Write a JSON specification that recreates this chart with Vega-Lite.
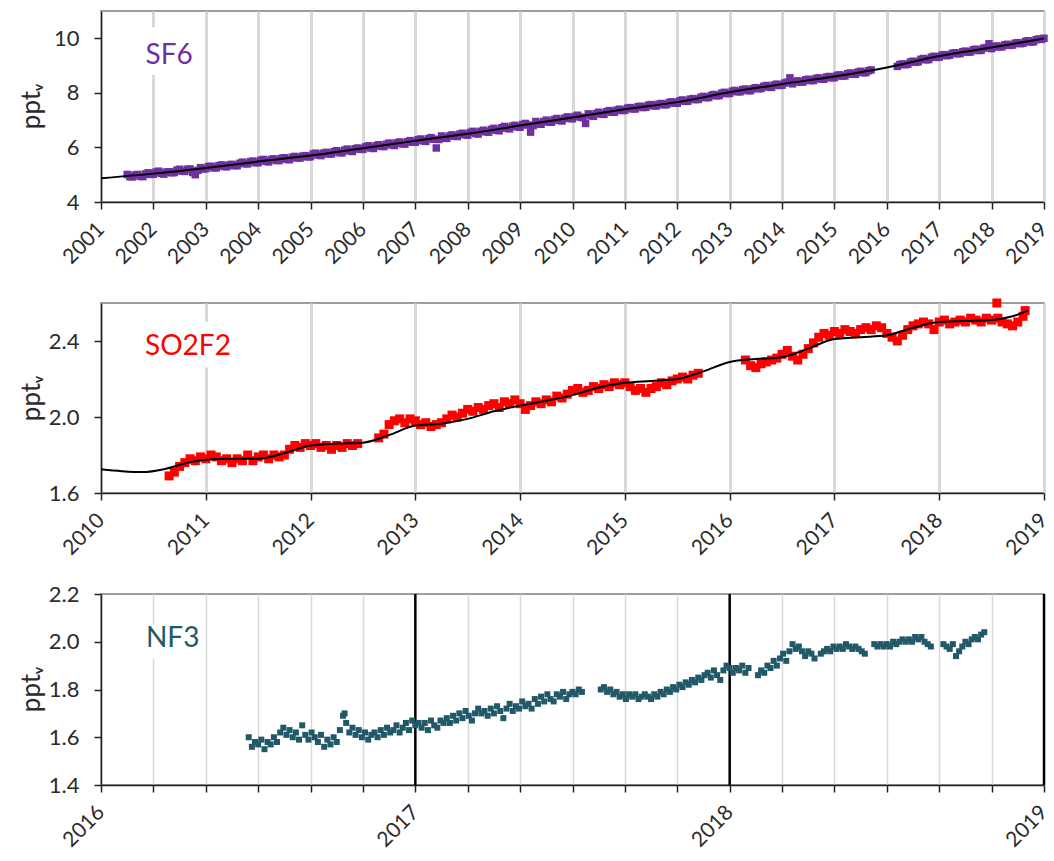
{
"$schema": "https://vega.github.io/schema/vega-lite/v6.json",
"padding": {"left": 17, "top": 10, "right": 2, "bottom": 5},
"background": "white",
"bounds": "flush",
"spacing": 101,
"config": {
  "font": "Lato",
  "view": {"stroke": "#7f7f7f", "strokeWidth": 1.5},
  "axis": {"labelFont": "Lato", "labelFontSize": 22, "labelColor": "#2b2b2b", "titleFont": "Lato", "titleFontSize": 26, "titleFontWeight": "normal", "titleColor": "#2b2b2b", "domainColor": "#222222", "domainWidth": 1.5, "tickColor": "#222222", "tickWidth": 1.5, "tickSize": 7, "labelOverlap": false}
},
"datasets": {
  "sf6": [
    {"t":2001.5,"v":5.01},{"t":2001.6,"v":4.92},{"t":2001.7,"v":5.01},{"t":2001.8,"v":4.93},{"t":2001.9,"v":5.07},
    {"t":2002.0,"v":5.02},{"t":2002.1,"v":5.13},{"t":2002.2,"v":5.02},{"t":2002.3,"v":5.11},{"t":2002.4,"v":5.08},{"t":2002.5,"v":5.20},{"t":2002.6,"v":5.12},{"t":2002.7,"v":5.21},{"t":2002.8,"v":5.00},{"t":2002.9,"v":5.26},
    {"t":2003.0,"v":5.22},{"t":2003.1,"v":5.31},{"t":2003.2,"v":5.25},{"t":2003.3,"v":5.36},{"t":2003.4,"v":5.29},{"t":2003.5,"v":5.38},{"t":2003.6,"v":5.33},{"t":2003.7,"v":5.46},{"t":2003.8,"v":5.40},{"t":2003.9,"v":5.50},
    {"t":2004.0,"v":5.44},{"t":2004.1,"v":5.56},{"t":2004.2,"v":5.47},{"t":2004.3,"v":5.58},{"t":2004.4,"v":5.52},{"t":2004.5,"v":5.62},{"t":2004.6,"v":5.55},{"t":2004.7,"v":5.67},{"t":2004.8,"v":5.61},{"t":2004.9,"v":5.70},
    {"t":2005.0,"v":5.66},{"t":2005.1,"v":5.79},{"t":2005.2,"v":5.70},{"t":2005.3,"v":5.82},{"t":2005.4,"v":5.76},{"t":2005.5,"v":5.88},{"t":2005.6,"v":5.80},{"t":2005.7,"v":5.94},{"t":2005.8,"v":5.85},{"t":2005.9,"v":5.98},
    {"t":2006.0,"v":5.93},{"t":2006.1,"v":6.06},{"t":2006.2,"v":5.96},{"t":2006.3,"v":6.10},{"t":2006.4,"v":6.03},{"t":2006.5,"v":6.16},{"t":2006.6,"v":6.07},{"t":2006.7,"v":6.20},{"t":2006.8,"v":6.12},{"t":2006.9,"v":6.25},
    {"t":2007.0,"v":6.19},{"t":2007.1,"v":6.31},{"t":2007.2,"v":6.22},{"t":2007.3,"v":6.36},{"t":2007.4,"v":5.98},{"t":2007.45,"v":6.29},{"t":2007.5,"v":6.42},{"t":2007.6,"v":6.33},{"t":2007.7,"v":6.46},{"t":2007.8,"v":6.40},{"t":2007.9,"v":6.52},
    {"t":2008.0,"v":6.45},{"t":2008.1,"v":6.59},{"t":2008.2,"v":6.49},{"t":2008.3,"v":6.63},{"t":2008.4,"v":6.56},{"t":2008.5,"v":6.70},{"t":2008.6,"v":6.61},{"t":2008.7,"v":6.77},{"t":2008.8,"v":6.68},{"t":2008.9,"v":6.81},
    {"t":2009.0,"v":6.74},{"t":2009.1,"v":6.88},{"t":2009.2,"v":6.56},{"t":2009.25,"v":6.80},{"t":2009.3,"v":6.95},{"t":2009.4,"v":6.85},{"t":2009.5,"v":7.00},{"t":2009.6,"v":6.92},{"t":2009.7,"v":7.06},{"t":2009.8,"v":6.97},{"t":2009.9,"v":7.12},
    {"t":2010.0,"v":7.05},{"t":2010.1,"v":7.18},{"t":2010.2,"v":7.09},{"t":2010.25,"v":6.88},{"t":2010.3,"v":7.23},{"t":2010.4,"v":7.14},{"t":2010.5,"v":7.29},{"t":2010.6,"v":7.21},{"t":2010.7,"v":7.35},{"t":2010.8,"v":7.29},{"t":2010.9,"v":7.40},
    {"t":2011.0,"v":7.36},{"t":2011.1,"v":7.46},{"t":2011.2,"v":7.41},{"t":2011.3,"v":7.51},{"t":2011.4,"v":7.47},{"t":2011.5,"v":7.57},{"t":2011.6,"v":7.52},{"t":2011.7,"v":7.61},{"t":2011.8,"v":7.57},{"t":2011.9,"v":7.67},
    {"t":2012.0,"v":7.62},{"t":2012.1,"v":7.74},{"t":2012.2,"v":7.69},{"t":2012.3,"v":7.79},{"t":2012.4,"v":7.76},{"t":2012.5,"v":7.87},{"t":2012.6,"v":7.83},{"t":2012.7,"v":7.94},{"t":2012.8,"v":7.90},{"t":2012.9,"v":8.02},
    {"t":2013.0,"v":7.98},{"t":2013.1,"v":8.09},{"t":2013.2,"v":8.04},{"t":2013.3,"v":8.14},{"t":2013.4,"v":8.08},{"t":2013.5,"v":8.19},{"t":2013.6,"v":8.16},{"t":2013.7,"v":8.27},{"t":2013.8,"v":8.20},{"t":2013.9,"v":8.32},
    {"t":2014.0,"v":8.28},{"t":2014.1,"v":8.39},{"t":2014.15,"v":8.55},{"t":2014.2,"v":8.33},{"t":2014.3,"v":8.44},{"t":2014.4,"v":8.40},{"t":2014.5,"v":8.50},{"t":2014.6,"v":8.45},{"t":2014.7,"v":8.55},{"t":2014.8,"v":8.50},{"t":2014.9,"v":8.60},
    {"t":2015.0,"v":8.56},{"t":2015.1,"v":8.66},{"t":2015.2,"v":8.62},{"t":2015.3,"v":8.73},{"t":2015.4,"v":8.68},{"t":2015.5,"v":8.79},{"t":2015.6,"v":8.74},{"t":2015.7,"v":8.84},
    {"t":2016.2,"v":8.97},{"t":2016.3,"v":9.06},{"t":2016.4,"v":9.05},{"t":2016.5,"v":9.16},{"t":2016.6,"v":9.14},{"t":2016.7,"v":9.26},{"t":2016.8,"v":9.22},{"t":2016.9,"v":9.34},
    {"t":2017.0,"v":9.31},{"t":2017.1,"v":9.40},{"t":2017.2,"v":9.38},{"t":2017.3,"v":9.47},{"t":2017.4,"v":9.44},{"t":2017.5,"v":9.53},{"t":2017.6,"v":9.50},{"t":2017.7,"v":9.60},{"t":2017.8,"v":9.56},{"t":2017.9,"v":9.66},{"t":2017.95,"v":9.80},
    {"t":2018.0,"v":9.62},{"t":2018.1,"v":9.72},{"t":2018.2,"v":9.69},{"t":2018.3,"v":9.78},{"t":2018.4,"v":9.75},{"t":2018.5,"v":9.84},{"t":2018.6,"v":9.82},{"t":2018.7,"v":9.91},{"t":2018.8,"v":9.87},{"t":2018.9,"v":9.97},{"t":2019.0,"v":10.00},
    {"t":2001.55,"v":4.93},{"t":2001.65,"v":4.99},{"t":2001.75,"v":4.94},{"t":2001.85,"v":5.03},{"t":2001.95,"v":5.01},{"t":2002.05,"v":5.10},{"t":2002.15,"v":5.05},{"t":2002.25,"v":5.10},{"t":2002.35,"v":5.07},{"t":2002.45,"v":5.17},
    {"t":2002.55,"v":5.13},{"t":2002.65,"v":5.20},{"t":2002.75,"v":5.08},{"t":2002.85,"v":5.16},{"t":2002.95,"v":5.21},{"t":2003.05,"v":5.30},{"t":2003.15,"v":5.25},{"t":2003.25,"v":5.33},{"t":2003.35,"v":5.30},{"t":2003.45,"v":5.36},
    {"t":2003.55,"v":5.33},{"t":2003.65,"v":5.42},{"t":2003.75,"v":5.40},{"t":2003.85,"v":5.48},{"t":2003.95,"v":5.44},{"t":2004.05,"v":5.53},{"t":2004.15,"v":5.49},{"t":2004.25,"v":5.56},{"t":2004.35,"v":5.52},{"t":2004.45,"v":5.60},
    {"t":2004.55,"v":5.56},{"t":2004.65,"v":5.64},{"t":2004.75,"v":5.61},{"t":2004.85,"v":5.68},{"t":2004.95,"v":5.65},{"t":2005.05,"v":5.76},{"t":2005.15,"v":5.72},{"t":2005.25,"v":5.79},{"t":2005.35,"v":5.76},{"t":2005.45,"v":5.85},
    {"t":2005.55,"v":5.81},{"t":2005.65,"v":5.90},{"t":2005.75,"v":5.87},{"t":2005.85,"v":5.95},{"t":2005.95,"v":5.93},{"t":2006.05,"v":6.02},{"t":2006.15,"v":5.98},{"t":2006.25,"v":6.06},{"t":2006.35,"v":6.04},{"t":2006.45,"v":6.12},
    {"t":2006.55,"v":6.09},{"t":2006.65,"v":6.17},{"t":2006.75,"v":6.13},{"t":2006.85,"v":6.21},{"t":2006.95,"v":6.19},{"t":2007.05,"v":6.28},{"t":2007.15,"v":6.24},{"t":2007.25,"v":6.32},{"t":2007.35,"v":6.30},{"t":2007.55,"v":6.35},
    {"t":2007.65,"v":6.42},{"t":2007.75,"v":6.41},{"t":2007.85,"v":6.49},{"t":2007.95,"v":6.46},{"t":2008.05,"v":6.55},{"t":2008.15,"v":6.51},{"t":2008.25,"v":6.59},{"t":2008.35,"v":6.57},{"t":2008.45,"v":6.66},{"t":2008.55,"v":6.63},
    {"t":2008.65,"v":6.72},{"t":2008.75,"v":6.70},{"t":2008.85,"v":6.78},{"t":2008.95,"v":6.75},{"t":2009.05,"v":6.84},{"t":2009.15,"v":6.82},{"t":2009.35,"v":6.87},{"t":2009.45,"v":6.95},{"t":2009.55,"v":6.93},{"t":2009.65,"v":7.02},
    {"t":2009.75,"v":6.99},{"t":2009.85,"v":7.07},{"t":2009.95,"v":7.06},{"t":2010.05,"v":7.14},{"t":2010.15,"v":7.11},{"t":2010.35,"v":7.16},{"t":2010.45,"v":7.24},{"t":2010.55,"v":7.22},{"t":2010.65,"v":7.31},{"t":2010.75,"v":7.29},
    {"t":2010.85,"v":7.37},{"t":2010.95,"v":7.35},{"t":2011.05,"v":7.44},{"t":2011.15,"v":7.41},{"t":2011.25,"v":7.49},{"t":2011.35,"v":7.46},{"t":2011.45,"v":7.55},{"t":2011.55,"v":7.52},{"t":2011.65,"v":7.59},{"t":2011.75,"v":7.56},
    {"t":2011.85,"v":7.65},{"t":2011.95,"v":7.62},{"t":2012.05,"v":7.71},{"t":2012.15,"v":7.69},{"t":2012.25,"v":7.77},{"t":2012.35,"v":7.75},{"t":2012.45,"v":7.84},{"t":2012.55,"v":7.82},{"t":2012.65,"v":7.91},{"t":2012.75,"v":7.89},
    {"t":2012.85,"v":7.99},{"t":2012.95,"v":7.97},{"t":2013.05,"v":8.06},{"t":2013.15,"v":8.04},{"t":2013.25,"v":8.12},{"t":2013.35,"v":8.08},{"t":2013.45,"v":8.16},{"t":2013.55,"v":8.15},{"t":2013.65,"v":8.24},{"t":2013.75,"v":8.21},
    {"t":2013.85,"v":8.29},{"t":2013.95,"v":8.27},{"t":2014.05,"v":8.36},{"t":2014.25,"v":8.41},{"t":2014.35,"v":8.39},{"t":2014.45,"v":8.48},{"t":2014.55,"v":8.45},{"t":2014.65,"v":8.53},{"t":2014.75,"v":8.50},{"t":2014.85,"v":8.58},
    {"t":2014.95,"v":8.55},{"t":2015.05,"v":8.64},{"t":2015.15,"v":8.61},{"t":2015.25,"v":8.70},{"t":2015.35,"v":8.68},{"t":2015.45,"v":8.76},{"t":2015.55,"v":8.74},{"t":2015.65,"v":8.81},
    {"t":2016.25,"v":9.04},{"t":2016.35,"v":9.03},{"t":2016.45,"v":9.13},{"t":2016.55,"v":9.12},{"t":2016.65,"v":9.23},{"t":2016.75,"v":9.21},{"t":2016.85,"v":9.31},{"t":2016.95,"v":9.30},{"t":2017.05,"v":9.38},{"t":2017.15,"v":9.36},
    {"t":2017.25,"v":9.45},{"t":2017.35,"v":9.43},{"t":2017.45,"v":9.51},{"t":2017.55,"v":9.49},{"t":2017.65,"v":9.58},{"t":2017.75,"v":9.55},{"t":2017.85,"v":9.64},{"t":2018.05,"v":9.69},{"t":2018.15,"v":9.68},{"t":2018.25,"v":9.76},
    {"t":2018.35,"v":9.74},{"t":2018.45,"v":9.82},{"t":2018.55,"v":9.80},{"t":2018.65,"v":9.89},{"t":2018.75,"v":9.86},{"t":2018.85,"v":9.95},{"t":2018.95,"v":9.96}
  ],
  "sf6fit": [
    {"t":2001,"v":4.87},{"t":2002,"v":5.04},{"t":2003,"v":5.25},{"t":2004,"v":5.48},{"t":2005,"v":5.70},{"t":2006,"v":5.97},{"t":2007,"v":6.24},{"t":2008,"v":6.50},{"t":2009,"v":6.80},{"t":2010,"v":7.10},
    {"t":2011,"v":7.40},{"t":2012,"v":7.66},{"t":2013,"v":8.02},{"t":2014,"v":8.32},{"t":2015,"v":8.60},{"t":2016,"v":8.93},{"t":2017,"v":9.35},{"t":2018,"v":9.66},{"t":2019,"v":9.99}
  ],
  "so2f2": [
    {"t":2010.65,"v":1.69},{"t":2010.70,"v":1.71},{"t":2010.75,"v":1.74},{"t":2010.80,"v":1.76},{"t":2010.85,"v":1.78},{"t":2010.90,"v":1.77},{"t":2010.95,"v":1.79},
    {"t":2011.00,"v":1.78},{"t":2011.05,"v":1.80},{"t":2011.10,"v":1.79},{"t":2011.15,"v":1.77},{"t":2011.20,"v":1.78},{"t":2011.25,"v":1.76},{"t":2011.30,"v":1.78},{"t":2011.35,"v":1.77},{"t":2011.40,"v":1.80},{"t":2011.45,"v":1.77},
    {"t":2011.50,"v":1.79},{"t":2011.55,"v":1.80},{"t":2011.60,"v":1.78},{"t":2011.65,"v":1.80},{"t":2011.70,"v":1.79},{"t":2011.75,"v":1.80},{"t":2011.80,"v":1.83},{"t":2011.85,"v":1.85},{"t":2011.90,"v":1.84},{"t":2011.95,"v":1.86},
    {"t":2012.00,"v":1.85},{"t":2012.05,"v":1.86},{"t":2012.10,"v":1.84},{"t":2012.15,"v":1.85},{"t":2012.20,"v":1.83},{"t":2012.25,"v":1.85},{"t":2012.30,"v":1.84},{"t":2012.35,"v":1.86},{"t":2012.40,"v":1.85},{"t":2012.45,"v":1.86},
    {"t":2012.65,"v":1.89},{"t":2012.70,"v":1.91},{"t":2012.75,"v":1.96},{"t":2012.80,"v":1.98},{"t":2012.85,"v":1.99},{"t":2012.90,"v":1.97},{"t":2012.95,"v":1.99},
    {"t":2013.00,"v":1.98},{"t":2013.05,"v":1.96},{"t":2013.10,"v":1.97},{"t":2013.15,"v":1.95},{"t":2013.20,"v":1.96},{"t":2013.25,"v":1.97},{"t":2013.30,"v":1.99},{"t":2013.35,"v":2.01},{"t":2013.40,"v":2.00},{"t":2013.45,"v":2.02},
    {"t":2013.50,"v":2.04},{"t":2013.55,"v":2.03},{"t":2013.60,"v":2.05},{"t":2013.65,"v":2.04},{"t":2013.70,"v":2.06},{"t":2013.75,"v":2.07},{"t":2013.80,"v":2.05},{"t":2013.85,"v":2.08},{"t":2013.90,"v":2.07},{"t":2013.95,"v":2.09},
    {"t":2014.00,"v":2.07},{"t":2014.05,"v":2.04},{"t":2014.10,"v":2.06},{"t":2014.15,"v":2.08},{"t":2014.20,"v":2.07},{"t":2014.25,"v":2.09},{"t":2014.30,"v":2.08},{"t":2014.35,"v":2.11},{"t":2014.40,"v":2.10},{"t":2014.45,"v":2.12},
    {"t":2014.50,"v":2.14},{"t":2014.55,"v":2.15},{"t":2014.60,"v":2.13},{"t":2014.65,"v":2.14},{"t":2014.70,"v":2.16},{"t":2014.75,"v":2.15},{"t":2014.80,"v":2.17},{"t":2014.85,"v":2.16},{"t":2014.90,"v":2.18},{"t":2014.95,"v":2.17},
    {"t":2015.00,"v":2.18},{"t":2015.05,"v":2.16},{"t":2015.10,"v":2.14},{"t":2015.15,"v":2.15},{"t":2015.20,"v":2.13},{"t":2015.25,"v":2.15},{"t":2015.30,"v":2.16},{"t":2015.35,"v":2.18},{"t":2015.40,"v":2.17},{"t":2015.45,"v":2.19},
    {"t":2015.50,"v":2.20},{"t":2015.55,"v":2.21},{"t":2015.60,"v":2.20},{"t":2015.65,"v":2.22},{"t":2015.70,"v":2.23},
    {"t":2016.15,"v":2.30},{"t":2016.20,"v":2.27},{"t":2016.25,"v":2.26},{"t":2016.30,"v":2.28},{"t":2016.35,"v":2.29},{"t":2016.40,"v":2.30},{"t":2016.45,"v":2.31},
    {"t":2016.50,"v":2.33},{"t":2016.55,"v":2.35},{"t":2016.60,"v":2.32},{"t":2016.65,"v":2.30},{"t":2016.70,"v":2.33},{"t":2016.75,"v":2.36},{"t":2016.80,"v":2.39},{"t":2016.85,"v":2.42},{"t":2016.90,"v":2.44},{"t":2016.95,"v":2.43},
    {"t":2017.00,"v":2.45},{"t":2017.05,"v":2.44},{"t":2017.10,"v":2.46},{"t":2017.15,"v":2.45},{"t":2017.20,"v":2.44},{"t":2017.25,"v":2.46},{"t":2017.30,"v":2.47},{"t":2017.35,"v":2.46},{"t":2017.40,"v":2.48},{"t":2017.45,"v":2.47},
    {"t":2017.50,"v":2.44},{"t":2017.55,"v":2.42},{"t":2017.60,"v":2.40},{"t":2017.65,"v":2.43},{"t":2017.70,"v":2.46},{"t":2017.75,"v":2.48},{"t":2017.80,"v":2.49},{"t":2017.85,"v":2.50},{"t":2017.90,"v":2.49},{"t":2017.95,"v":2.46},
    {"t":2018.00,"v":2.50},{"t":2018.05,"v":2.51},{"t":2018.10,"v":2.49},{"t":2018.15,"v":2.50},{"t":2018.20,"v":2.51},{"t":2018.25,"v":2.50},{"t":2018.30,"v":2.52},{"t":2018.35,"v":2.51},{"t":2018.40,"v":2.50},{"t":2018.45,"v":2.52},
    {"t":2018.50,"v":2.51},{"t":2018.55,"v":2.60},{"t":2018.56,"v":2.52},{"t":2018.60,"v":2.50},{"t":2018.65,"v":2.49},{"t":2018.70,"v":2.48},{"t":2018.75,"v":2.50},{"t":2018.80,"v":2.53},{"t":2018.82,"v":2.56}
  ],
  "so2f2fit": [
    {"t":2010.0,"v":1.725},{"t":2010.2,"v":1.715},{"t":2010.4,"v":1.71},{"t":2010.6,"v":1.725},{"t":2010.8,"v":1.755},{"t":2011.0,"v":1.775},{"t":2011.25,"v":1.78},{"t":2011.5,"v":1.78},{"t":2011.75,"v":1.81},
    {"t":2012.0,"v":1.85},{"t":2012.25,"v":1.86},{"t":2012.5,"v":1.865},{"t":2012.75,"v":1.905},{"t":2013.0,"v":1.955},{"t":2013.25,"v":1.965},{"t":2013.5,"v":1.99},{"t":2013.75,"v":2.03},
    {"t":2014.0,"v":2.06},{"t":2014.25,"v":2.085},{"t":2014.5,"v":2.115},{"t":2014.75,"v":2.155},{"t":2015.0,"v":2.18},{"t":2015.25,"v":2.19},{"t":2015.5,"v":2.20},{"t":2015.75,"v":2.24},
    {"t":2016.0,"v":2.29},{"t":2016.25,"v":2.305},{"t":2016.5,"v":2.315},{"t":2016.75,"v":2.36},{"t":2017.0,"v":2.41},{"t":2017.25,"v":2.42},{"t":2017.5,"v":2.43},{"t":2017.75,"v":2.47},
    {"t":2018.0,"v":2.50},{"t":2018.25,"v":2.505},{"t":2018.5,"v":2.51},{"t":2018.7,"v":2.53},{"t":2018.85,"v":2.56}
  ],
  "nf3": [
    {"t":2016.47,"v":1.60},{"t":2016.48,"v":1.56},{"t":2016.49,"v":1.58},{"t":2016.50,"v":1.57},{"t":2016.51,"v":1.59},{"t":2016.52,"v":1.55},{"t":2016.53,"v":1.58},{"t":2016.54,"v":1.57},{"t":2016.55,"v":1.60},{"t":2016.56,"v":1.58},
    {"t":2016.57,"v":1.62},{"t":2016.58,"v":1.64},{"t":2016.59,"v":1.61},{"t":2016.60,"v":1.63},{"t":2016.61,"v":1.60},{"t":2016.62,"v":1.62},{"t":2016.63,"v":1.59},{"t":2016.64,"v":1.65},{"t":2016.65,"v":1.61},{"t":2016.66,"v":1.59},
    {"t":2016.67,"v":1.62},{"t":2016.68,"v":1.60},{"t":2016.69,"v":1.58},{"t":2016.70,"v":1.61},{"t":2016.71,"v":1.56},{"t":2016.72,"v":1.59},{"t":2016.73,"v":1.57},{"t":2016.74,"v":1.60},{"t":2016.75,"v":1.58},{"t":2016.76,"v":1.63},
    {"t":2016.77,"v":1.69},{"t":2016.775,"v":1.70},{"t":2016.78,"v":1.66},{"t":2016.79,"v":1.62},{"t":2016.80,"v":1.64},{"t":2016.81,"v":1.61},{"t":2016.82,"v":1.63},{"t":2016.83,"v":1.60},{"t":2016.84,"v":1.62},{"t":2016.85,"v":1.59},
    {"t":2016.86,"v":1.61},{"t":2016.87,"v":1.62},{"t":2016.88,"v":1.60},{"t":2016.89,"v":1.63},{"t":2016.90,"v":1.61},{"t":2016.91,"v":1.64},{"t":2016.92,"v":1.62},{"t":2016.93,"v":1.63},{"t":2016.94,"v":1.65},{"t":2016.95,"v":1.62},
    {"t":2016.96,"v":1.64},{"t":2016.97,"v":1.66},{"t":2016.98,"v":1.63},{"t":2016.99,"v":1.67},{"t":2017.00,"v":1.65},{"t":2017.01,"v":1.66},{"t":2017.02,"v":1.64},{"t":2017.03,"v":1.66},{"t":2017.04,"v":1.63},{"t":2017.05,"v":1.67},
    {"t":2017.06,"v":1.65},{"t":2017.07,"v":1.64},{"t":2017.08,"v":1.67},{"t":2017.09,"v":1.66},{"t":2017.10,"v":1.68},{"t":2017.11,"v":1.66},{"t":2017.12,"v":1.69},{"t":2017.13,"v":1.67},{"t":2017.14,"v":1.70},{"t":2017.15,"v":1.68},
    {"t":2017.16,"v":1.71},{"t":2017.17,"v":1.69},{"t":2017.18,"v":1.67},{"t":2017.19,"v":1.70},{"t":2017.20,"v":1.72},{"t":2017.21,"v":1.70},{"t":2017.22,"v":1.71},{"t":2017.23,"v":1.69},{"t":2017.24,"v":1.72},{"t":2017.25,"v":1.70},
    {"t":2017.26,"v":1.73},{"t":2017.27,"v":1.71},{"t":2017.28,"v":1.68},{"t":2017.29,"v":1.72},{"t":2017.30,"v":1.74},{"t":2017.31,"v":1.71},{"t":2017.32,"v":1.73},{"t":2017.33,"v":1.72},{"t":2017.34,"v":1.75},{"t":2017.35,"v":1.73},
    {"t":2017.36,"v":1.74},{"t":2017.37,"v":1.72},{"t":2017.38,"v":1.76},{"t":2017.39,"v":1.74},{"t":2017.40,"v":1.77},{"t":2017.41,"v":1.75},{"t":2017.42,"v":1.78},{"t":2017.43,"v":1.76},{"t":2017.44,"v":1.75},{"t":2017.45,"v":1.78},
    {"t":2017.46,"v":1.77},{"t":2017.47,"v":1.79},{"t":2017.48,"v":1.76},{"t":2017.49,"v":1.78},{"t":2017.50,"v":1.79},{"t":2017.51,"v":1.78},{"t":2017.52,"v":1.80},{"t":2017.53,"v":1.79},
    {"t":2017.59,"v":1.80},{"t":2017.60,"v":1.81},{"t":2017.61,"v":1.79},{"t":2017.62,"v":1.80},{"t":2017.63,"v":1.78},{"t":2017.64,"v":1.79},{"t":2017.65,"v":1.77},{"t":2017.66,"v":1.78},{"t":2017.67,"v":1.76},{"t":2017.68,"v":1.78},
    {"t":2017.69,"v":1.77},{"t":2017.70,"v":1.78},{"t":2017.71,"v":1.76},{"t":2017.72,"v":1.77},{"t":2017.73,"v":1.78},{"t":2017.74,"v":1.77},{"t":2017.75,"v":1.76},{"t":2017.76,"v":1.78},{"t":2017.77,"v":1.77},{"t":2017.78,"v":1.79},
    {"t":2017.79,"v":1.78},{"t":2017.80,"v":1.80},{"t":2017.81,"v":1.79},{"t":2017.82,"v":1.81},{"t":2017.83,"v":1.80},{"t":2017.84,"v":1.82},{"t":2017.85,"v":1.81},{"t":2017.86,"v":1.83},{"t":2017.87,"v":1.82},{"t":2017.88,"v":1.84},
    {"t":2017.89,"v":1.83},{"t":2017.90,"v":1.85},{"t":2017.91,"v":1.84},{"t":2017.92,"v":1.86},{"t":2017.93,"v":1.87},{"t":2017.94,"v":1.85},{"t":2017.95,"v":1.88},{"t":2017.96,"v":1.86},{"t":2017.97,"v":1.84},{"t":2017.98,"v":1.88},
    {"t":2017.99,"v":1.90},{"t":2018.00,"v":1.89},{"t":2018.01,"v":1.87},{"t":2018.02,"v":1.89},{"t":2018.03,"v":1.88},{"t":2018.04,"v":1.90},{"t":2018.05,"v":1.87},{"t":2018.06,"v":1.89},
    {"t":2018.09,"v":1.86},{"t":2018.10,"v":1.88},{"t":2018.11,"v":1.87},{"t":2018.12,"v":1.90},{"t":2018.13,"v":1.89},{"t":2018.14,"v":1.92},{"t":2018.15,"v":1.90},{"t":2018.16,"v":1.93},{"t":2018.17,"v":1.95},{"t":2018.18,"v":1.92},
    {"t":2018.19,"v":1.96},{"t":2018.20,"v":1.99},{"t":2018.21,"v":1.97},{"t":2018.22,"v":1.98},{"t":2018.23,"v":1.96},{"t":2018.24,"v":1.94},{"t":2018.25,"v":1.96},{"t":2018.26,"v":1.95},{"t":2018.27,"v":1.93},
    {"t":2018.29,"v":1.95},{"t":2018.30,"v":1.96},{"t":2018.31,"v":1.97},{"t":2018.32,"v":1.96},{"t":2018.33,"v":1.98},{"t":2018.34,"v":1.97},{"t":2018.35,"v":1.98},{"t":2018.36,"v":1.97},{"t":2018.37,"v":1.99},{"t":2018.38,"v":1.98},
    {"t":2018.39,"v":1.97},{"t":2018.40,"v":1.98},{"t":2018.41,"v":1.97},{"t":2018.42,"v":1.96},{"t":2018.43,"v":1.95},
    {"t":2018.46,"v":1.99},{"t":2018.47,"v":1.98},{"t":2018.48,"v":1.99},{"t":2018.49,"v":1.98},{"t":2018.50,"v":1.99},{"t":2018.51,"v":1.98},{"t":2018.52,"v":2.00},{"t":2018.53,"v":1.99},{"t":2018.54,"v":2.00},{"t":2018.55,"v":2.01},
    {"t":2018.56,"v":2.00},{"t":2018.57,"v":2.01},{"t":2018.58,"v":2.00},{"t":2018.59,"v":2.02},{"t":2018.60,"v":2.01},{"t":2018.61,"v":2.02},{"t":2018.62,"v":2.00},{"t":2018.63,"v":1.99},{"t":2018.64,"v":1.98},
    {"t":2018.68,"v":1.99},{"t":2018.69,"v":1.98},{"t":2018.70,"v":1.97},{"t":2018.71,"v":1.99},{"t":2018.72,"v":1.94},{"t":2018.73,"v":1.96},{"t":2018.74,"v":1.98},{"t":2018.75,"v":2.00},{"t":2018.76,"v":1.99},{"t":2018.77,"v":2.01},
    {"t":2018.78,"v":2.02},{"t":2018.79,"v":2.01},{"t":2018.80,"v":2.03},{"t":2018.81,"v":2.04}
  ],
  "years3": [{"t":2017},{"t":2018},{"t":2019}]
},
"vconcat": [
  {
    "width": 943, "height": 191,
    "layer": [
      {"data": {"name": "sf6"}, "mark": {"type": "square", "size": 56, "color": "#7030A0", "opacity": 1},
       "encoding": {
         "x": {"field": "t", "type": "quantitative", "scale": {"domain": [2001, 2019], "nice": false, "zero": false},
               "axis": {"title": null, "values": [2001,2002,2003,2004,2005,2006,2007,2008,2009,2010,2011,2012,2013,2014,2015,2016,2017,2018,2019], "format": "d", "labelAngle": -45, "labelAlign": "right", "labelBaseline": "middle", "labelPadding": 17, "labelFontSize": 21, "labelOverlap": false, "grid": true, "gridColor": "#D9D9D9", "gridWidth": 3}},
         "y": {"field": "v", "type": "quantitative", "scale": {"domain": [4, 11], "nice": false, "zero": false},
               "axis": {"title": "pptᵥ", "values": [4,5,6,7,8,9,10,11], "labelExpr": "datum.value % 2 == 0 ? format(datum.value, 'd') : ''", "grid": false, "labelPadding": 15, "labelFontSize": 22, "titleFontSize": 26, "titleX": -70, "titleY": 95, "titleAngle": -90, "titleAlign": "center", "titleBaseline": "middle"}}
       }},
      {"data": {"name": "sf6fit"}, "mark": {"type": "line", "color": "black", "strokeWidth": 2, "interpolate": "monotone"},
       "encoding": {"x": {"field": "t", "type": "quantitative"}, "y": {"field": "v", "type": "quantitative"}}},
      {"data": {"values": [{}]}, "mark": {"type": "rect", "fill": "white"},
       "encoding": {"x": {"datum": 2001.8}, "x2": {"datum": 2002.75}, "y": {"datum": 8.65}, "y2": {"datum": 10.4}}},
      {"data": {"values": [{}]}, "mark": {"type": "text", "color": "#7030A0", "fontSize": 28, "align": "left", "baseline": "middle", "font": "Lato"},
       "encoding": {"x": {"datum": 2001.85}, "y": {"datum": 9.35}, "text": {"value": "SF6"}}}
    ]
  },
  {
    "width": 943, "height": 190,
    "layer": [
      {"data": {"name": "so2f2"}, "mark": {"type": "square", "size": 81, "color": "#FF0000", "opacity": 1},
       "encoding": {
         "x": {"field": "t", "type": "quantitative", "scale": {"domain": [2010, 2019], "nice": false, "zero": false},
               "axis": {"title": null, "values": [2010,2011,2012,2013,2014,2015,2016,2017,2018,2019], "format": "d", "labelAngle": -45, "labelAlign": "right", "labelBaseline": "middle", "labelPadding": 17, "labelFontSize": 21, "labelOverlap": false, "grid": true, "gridColor": "#D9D9D9", "gridWidth": 3}},
         "y": {"field": "v", "type": "quantitative", "scale": {"domain": [1.6, 2.6], "nice": false, "zero": false},
               "axis": {"title": "pptᵥ", "values": [1.6,1.7,1.8,1.9,2.0,2.1,2.2,2.3,2.4,2.5,2.6], "labelExpr": "round(datum.value * 10) % 2 == 0 ? format(datum.value, '.1f') : ''", "grid": false, "labelPadding": 15, "labelFontSize": 22, "titleFontSize": 26, "titleX": -70, "titleY": 95, "titleAngle": -90, "titleAlign": "center", "titleBaseline": "middle"}}
       }},
      {"data": {"name": "so2f2fit"}, "mark": {"type": "line", "color": "black", "strokeWidth": 2, "interpolate": "monotone"},
       "encoding": {"x": {"field": "t", "type": "quantitative"}, "y": {"field": "v", "type": "quantitative"}}},
      {"data": {"values": [{}]}, "mark": {"type": "rect", "fill": "white"},
       "encoding": {"x": {"datum": 2010.38}, "x2": {"datum": 2011.35}, "y": {"datum": 2.26}, "y2": {"datum": 2.5}}},
      {"data": {"values": [{}]}, "mark": {"type": "text", "color": "#FF0000", "fontSize": 28, "align": "left", "baseline": "middle", "font": "Lato"},
       "encoding": {"x": {"datum": 2010.42}, "y": {"datum": 2.37}, "text": {"value": "SO2F2"}}}
    ]
  },
  {
    "width": 943, "height": 191,
    "layer": [
      {"data": {"name": "years3"}, "mark": {"type": "rule", "color": "black", "strokeWidth": 2.5},
       "encoding": {
         "x": {"field": "t", "type": "quantitative", "scale": {"domain": [2016, 2019], "nice": false, "zero": false},
               "axis": {"title": null, "values": [2016,2016.0833,2016.1667,2016.25,2016.3333,2016.4167,2016.5,2016.5833,2016.6667,2016.75,2016.8333,2016.9167,2017,2017.0833,2017.1667,2017.25,2017.3333,2017.4167,2017.5,2017.5833,2017.6667,2017.75,2017.8333,2017.9167,2018,2018.0833,2018.1667,2018.25,2018.3333,2018.4167,2018.5,2018.5833,2018.6667,2018.75,2018.8333,2018.9167,2019], "labelExpr": "datum.value % 1 == 0 ? format(datum.value, 'd') : ''", "labelAngle": -45, "labelAlign": "right", "labelBaseline": "middle", "labelPadding": 17, "labelFontSize": 21, "labelOverlap": false, "grid": true, "gridColor": "#D9D9D9", "gridWidth": 1.5}}
       }},
      {"data": {"name": "nf3"}, "mark": {"type": "square", "size": 36, "color": "#215968", "opacity": 1},
       "encoding": {
         "x": {"field": "t", "type": "quantitative"},
         "y": {"field": "v", "type": "quantitative", "scale": {"domain": [1.4, 2.2], "nice": false, "zero": false},
               "axis": {"title": "pptᵥ", "values": [1.4,1.5,1.6,1.7,1.8,1.9,2.0,2.1,2.2], "labelExpr": "round(datum.value * 10) % 2 == 0 ? format(datum.value, '.1f') : ''", "grid": false, "labelPadding": 15, "labelFontSize": 22, "titleFontSize": 26, "titleX": -70, "titleY": 95, "titleAngle": -90, "titleAlign": "center", "titleBaseline": "middle"}}
       }},
      {"data": {"values": [{}]}, "mark": {"type": "rect", "fill": "white"},
       "encoding": {"x": {"datum": 2016.13}, "x2": {"datum": 2016.32}, "y": {"datum": 1.93}, "y2": {"datum": 2.07}}},
      {"data": {"values": [{}]}, "mark": {"type": "text", "color": "#215968", "fontSize": 28, "align": "left", "baseline": "middle", "font": "Lato"},
       "encoding": {"x": {"datum": 2016.143}, "y": {"datum": 2.01}, "text": {"value": "NF3"}}}
    ]
  }
]
}
